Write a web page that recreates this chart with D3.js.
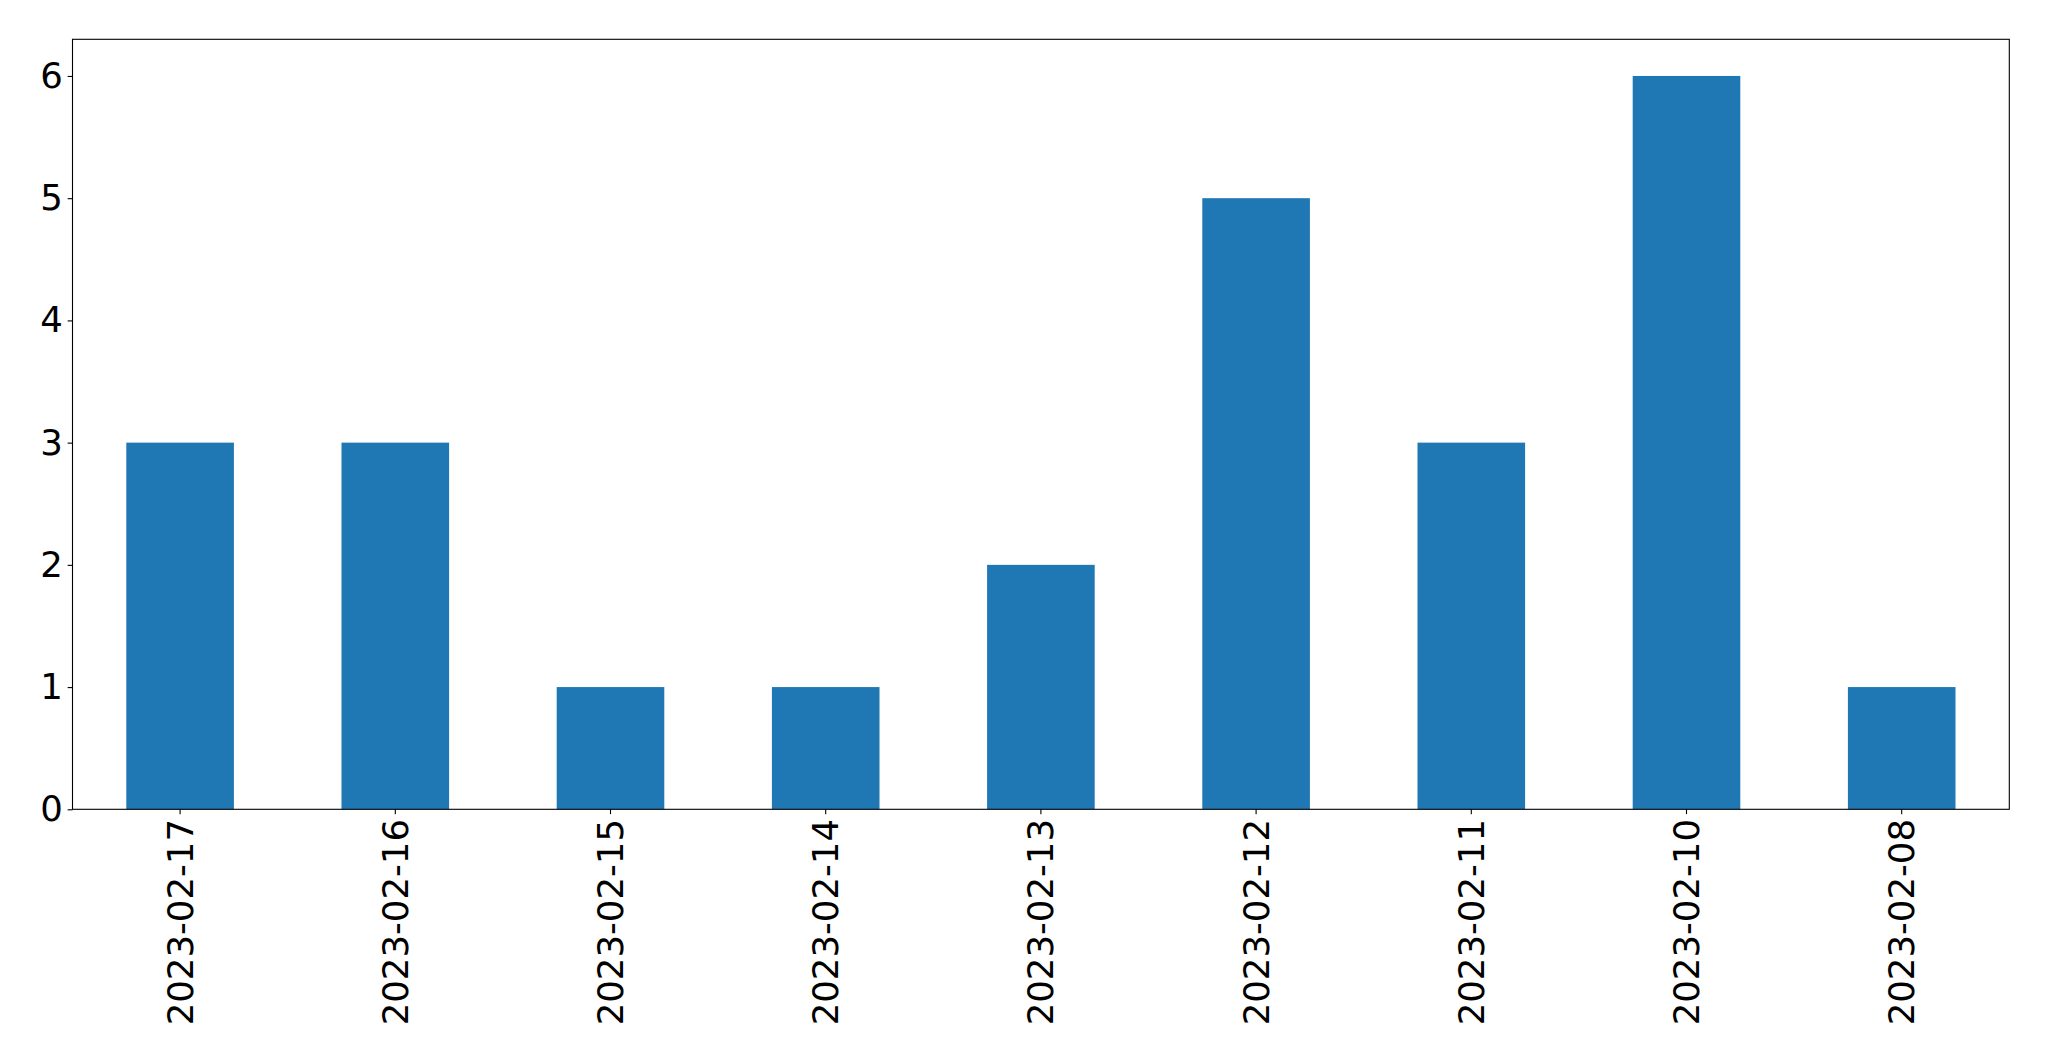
<!DOCTYPE html>
<html>
<head>
<meta charset="utf-8">
<script src="https://cdn.jsdelivr.net/npm/d3@7"></script>
<style>
  html, body { margin: 0; padding: 0; background: #fff; }
  svg { display: block; }
</style>
</head>
<body>
<script>
const categories = ["2023-02-17","2023-02-16","2023-02-15","2023-02-14","2023-02-13","2023-02-12","2023-02-11","2023-02-10","2023-02-08"];
const values = [3, 3, 1, 1, 2, 5, 3, 6, 1];
const yTicks = [0, 1, 2, 3, 4, 5, 6];

const W = 2049, H = 1061;
const margin = {left: 72.5, right: W - 2009.3, top: 39.3, bottom: H - 809.3};
const fontSize = 35.5;
const tickLen = 4.86, pad = 4.86;

const svg = d3.select("body").append("svg").attr("width", W).attr("height", H);

const x = d3.scaleBand().domain(categories)
  .range([margin.left, W - margin.right]).paddingInner(0.5).paddingOuter(0.25);
const y = d3.scaleLinear().domain([0, 6.3]).range([H - margin.bottom, margin.top]);

svg.append("g").selectAll("rect").data(values).join("rect")
  .attr("x", (d, i) => x(categories[i]))
  .attr("width", x.bandwidth())
  .attr("y", d => y(d))
  .attr("height", d => y(0) - y(d))
  .attr("fill", "#1f77b4");

const yAxis = svg.append("g").attr("transform", `translate(${margin.left},0)`)
  .call(d3.axisLeft(y).tickValues(yTicks).tickFormat(d3.format("d")).tickSize(tickLen).tickPadding(pad));
yAxis.select(".domain").remove();
yAxis.selectAll("line").attr("stroke", "#000").attr("stroke-width", 1.1);
yAxis.selectAll("text").attr("font-family", "DejaVu Sans").attr("font-size", fontSize).attr("fill", "#000");

const xAxis = svg.append("g").attr("transform", `translate(0,${H - margin.bottom})`)
  .call(d3.axisBottom(x).tickSize(tickLen).tickPadding(pad));
xAxis.select(".domain").remove();
xAxis.selectAll("line").attr("stroke", "#000").attr("stroke-width", 1.1);
xAxis.selectAll("text")
  .attr("font-family", "DejaVu Sans").attr("font-size", fontSize).attr("fill", "#000")
  .attr("transform", "rotate(-90)")
  .attr("text-anchor", "end")
  .attr("x", -(tickLen + pad))
  .attr("y", 0)
  .attr("dy", "0.35em");

svg.append("rect")
  .attr("x", margin.left).attr("y", margin.top)
  .attr("width", W - margin.left - margin.right)
  .attr("height", H - margin.top - margin.bottom)
  .attr("fill", "none").attr("stroke", "#000").attr("stroke-width", 1.1);
</script>
</body>
</html>
